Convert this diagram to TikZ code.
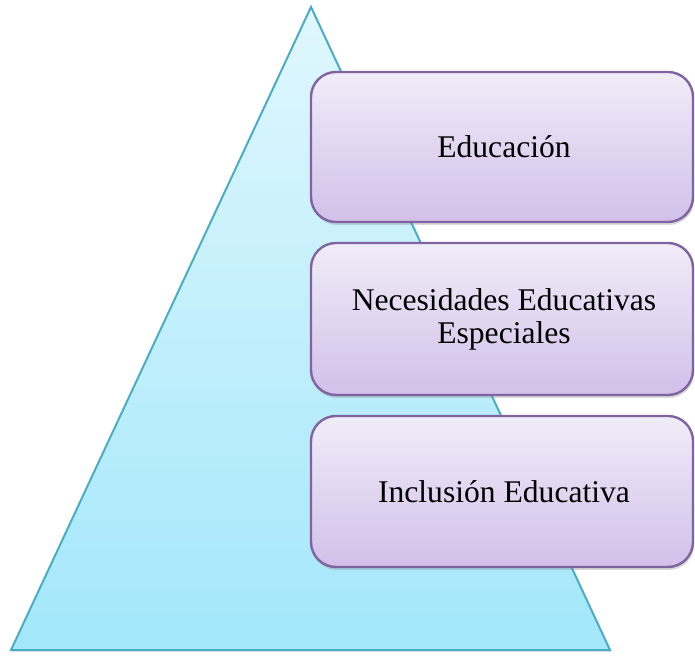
\documentclass[tikz,border=0pt]{standalone}
\usepackage{fontspec}
\setmainfont{Liberation Serif}
\usetikzlibrary{shadows}
\definecolor{triline}{HTML}{4BACC6}
\definecolor{tritop}{HTML}{E0F7FD}
\definecolor{tribot}{HTML}{A3E7FB}
\definecolor{boxline}{HTML}{8064A2}
\definecolor{boxtop}{HTML}{F1ECF8}
\definecolor{boxbot}{HTML}{D2C0E9}
\tikzset{
  tri/.style={draw=triline, line width=2pt, line join=miter, top color=tritop, bottom color=tribot,
    drop shadow={opacity=0.2, shadow xshift=1pt, shadow yshift=-2pt}},
  pbox/.style={draw=boxline, line width=2.4pt, rounded corners=25pt, top color=boxtop, bottom color=boxbot,
    drop shadow={opacity=0.3, shadow xshift=1pt, shadow yshift=-3pt}},
  lbl/.style={font=\fontsize{31.6}{33}\selectfont, align=center, text=black}
}
\begin{document}
\begin{tikzpicture}[x=1pt,y=1pt]
\useasboundingbox (0,0) rectangle (695,655);
\coordinate (apex) at (311,648);
\coordinate (bl) at (11,5);
\coordinate (br) at (610,5);
\path[tri] (apex) -- (br) -- (bl) -- cycle;
\path[pbox] (311,433) rectangle (693,583);
\path[pbox] (311,260) rectangle (693,412);
\path[pbox] (311,88) rectangle (693,239);
\node[lbl] (b1) at (504,508) {Educación};
\node[lbl] (b2) at (504,336) {Necesidades Educativas\\Especiales};
\node[lbl] (b3) at (504,163.5) {Inclusión Educativa};
\end{tikzpicture}
\end{document}
